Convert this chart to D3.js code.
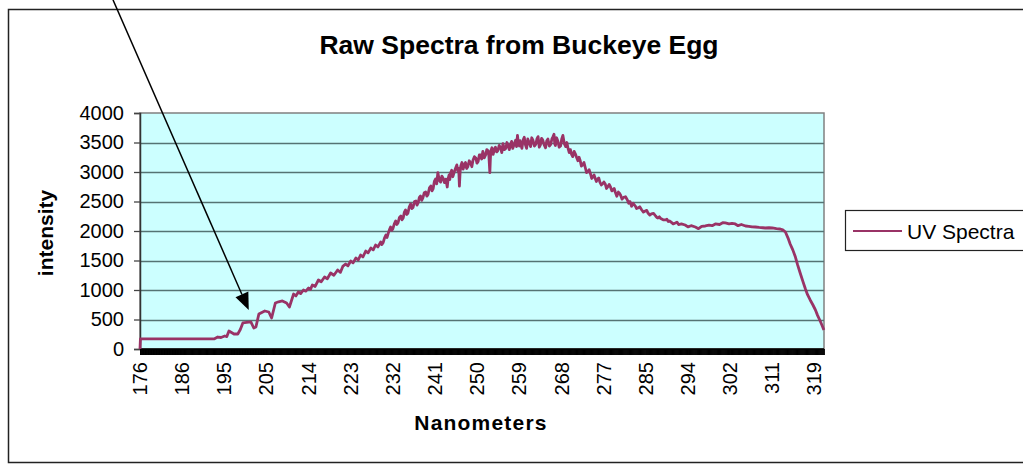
<!DOCTYPE html>
<html>
<head>
<meta charset="utf-8">
<script src="https://cdn.jsdelivr.net/npm/d3@7"></script>
<style>
  body { margin: 0; background: #fff; }
  svg text { font-family: Arial, "Liberation Sans", sans-serif; fill: #000; }
</style>
</head>
<body>
<svg id="chart" width="1023" height="464"></svg>
<script>
// category labels shown on the x axis (every n-th wavelength)
var tickLabels = [176, 186, 195, 205, 214, 223, 232, 241, 250, 259, 268, 277, 285, 294, 302, 311, 319];
var yTicks = [0, 500, 1000, 1500, 2000, 2500, 3000, 3500, 4000];

// UV spectra: [nm, counts]
var spectrum = [
  [176, 0], [176.1, 170], [192.8, 170], [193.6, 203], [194.3, 195], [195.1, 220], [195.6, 210], [196.1, 305],
  [196.7, 280], [197.3, 254], [198.2, 254], [198.8, 330], [199.4, 441], [200.3, 450], [201.3, 458], [202.0, 356],
  [202.5, 372], [203.2, 593], [203.9, 620], [204.6, 644], [205.5, 627], [206.1, 525], [206.9, 780], [207.6, 800],
  [208.4, 814], [209.3, 780], [209.9, 712], [210.8, 932], [211.3, 900], [211.8, 966], [212.3, 940], [212.9, 1000],
  [213.4, 980], [214.0, 1034], [214.4, 1010], [214.8, 1085], [215.4, 1060], [216.1, 1170], [216.7, 1140], [217.4, 1220],
  [218.0, 1190], [218.7, 1288], [219.4, 1250], [220.2, 1339], [220.8, 1300], [221.3, 1400], [221.9, 1441], [222.4, 1410],
  [223.0, 1492], [223.5, 1460], [224.1, 1542], [224.6, 1510], [225.1, 1593], [225.6, 1560], [226.2, 1661], [226.7, 1630],
  [227.3, 1712], [227.8, 1680], [228.3, 1763], [228.8, 1730],
  [229.4, 1814], [229.65, 1770], [229.9, 1800], [230.2, 1880], [230.5, 1932], [230.75, 1890], [231.0, 1960], [231.25, 2020],
  [231.5, 2068], [231.75, 2010], [232.0, 2040], [232.3, 2120], [232.6, 2170], [232.85, 2110], [233.1, 2140], [233.4, 2230],
  [233.7, 2254], [233.95, 2190], [234.2, 2220], [234.45, 2320], [234.7, 2356], [234.95, 2280], [235.2, 2300], [235.5, 2410],
  [235.8, 2458], [236.05, 2380], [236.3, 2400], [236.6, 2500], [236.9, 2509], [237.15, 2440], [237.4, 2480], [237.65, 2570],
  [237.9, 2593], [238.15, 2520], [238.4, 2560], [238.7, 2650], [239.0, 2661], [239.25, 2590], [239.5, 2620], [239.8, 2730],
  [240.1, 2763], [240.35, 2680], [240.6, 2720], [240.85, 2840], [241.1, 2881], [241.35, 2800], [241.6, 2990], [241.9, 2860],
  [242.2, 2830], [242.45, 2930], [242.7, 2900], [243.0, 2820], [243.3, 2880], [243.6, 2746], [243.8, 2890], [244.0, 2950],
  [244.15, 2870], [244.3, 2983], [244.55, 3030], [244.8, 2920], [245.1, 3000], [245.4, 3068], [245.65, 3120], [245.9, 3010],
  [246.05, 3060], [246.2, 2760], [246.35, 3000], [246.5, 3102], [246.75, 3160], [247.0, 3050], [247.25, 3120], [247.5, 3160],
  [247.75, 3060], [248.0, 3090], [248.3, 3190], [248.6, 3153], [248.85, 3090], [249.1, 3200], [249.4, 3260], [249.7, 3237],
  [249.95, 3150], [250.2, 3180], [250.45, 3290], [250.7, 3288], [250.95, 3220], [251.2, 3350], [251.5, 3240], [251.8, 3290],
  [252.05, 3380], [252.3, 3360], [252.5, 3270], [252.7, 2990], [252.8, 3200], [252.9, 3356], [253.15, 3410], [253.4, 3300],
  [253.65, 3380], [253.9, 3420], [254.15, 3340], [254.4, 3360], [254.7, 3450], [255.0, 3407], [255.25, 3330], [255.5, 3480],
  [255.8, 3380], [256.1, 3400], [256.35, 3500], [256.6, 3460], [256.85, 3380], [257.1, 3458], [257.35, 3520], [257.6, 3400],
  [257.9, 3470], [258.2, 3540], [258.4, 3430], [258.6, 3620], [258.8, 3480], [259.0, 3440], [259.15, 3530], [259.3, 3475],
  [259.55, 3400], [259.8, 3540], [260.05, 3590], [260.3, 3460], [260.55, 3400], [260.8, 3560], [261.1, 3500], [261.4, 3430],
  [261.65, 3580], [261.9, 3540], [262.2, 3440], [262.5, 3470], [262.75, 3560], [263.0, 3600], [263.25, 3420], [263.5, 3460],
  [263.75, 3570], [264.0, 3540], [264.3, 3460], [264.6, 3410], [264.85, 3530], [265.1, 3560], [265.4, 3440], [265.7, 3470],
  [265.95, 3560], [266.2, 3600], [266.4, 3640], [266.55, 3480], [266.7, 3450], [266.95, 3580], [267.2, 3530], [267.5, 3420],
  [267.8, 3440], [268.05, 3560], [268.3, 3620], [268.6, 3480], [268.9, 3430], [269.15, 3500], [269.4, 3400], [269.65, 3330],
  [269.9, 3380], [270.15, 3300], [270.4, 3260], [270.7, 3350], [271.0, 3300], [271.25, 3240], [271.5, 3190], [271.75, 3250],
  [272.0, 3190], [272.25, 3100], [272.5, 3120], [272.8, 3160], [273.1, 3068], [273.35, 2990], [273.6, 3000], [273.9, 3040],
  [274.2, 2966], [274.45, 2890], [274.7, 2920], [274.95, 2950], [275.2, 2890], [275.45, 2840], [275.7, 2881], [275.95, 2900],
  [276.2, 2830], [276.5, 2780], [276.8, 2800], [277.05, 2830], [277.3, 2797], [277.55, 2720], [277.8, 2750], [278.05, 2790],
  [278.3, 2746], [278.55, 2680], [278.8, 2700], [279.0, 2720], [279.2, 2661], [279.5, 2590], [279.8, 2660], [280.0, 2640],
  [280.2, 2610], [280.5, 2540], [280.8, 2570], [281.15, 2580], [281.5, 2526], [281.75, 2470], [282.0, 2500], [282.3, 2420],
  [282.6, 2470], [283.0, 2424], [283.25, 2380], [283.5, 2390], [283.85, 2410], [284.2, 2360], [284.55, 2320], [284.9, 2339],
  [285.2, 2350], [285.5, 2300], [285.85, 2270], [286.2, 2290], [286.65, 2300], [287.1, 2254], [287.35, 2230], [287.6, 2220],
  [287.9, 2240], [288.2, 2210], [288.7, 2190], [289.2, 2187], [289.5, 2200], [289.8, 2160], [290.1, 2170], [290.4, 2150],
  [290.85, 2120], [291.3, 2136], [291.65, 2150], [292.0, 2110],
  [292.6, 2120], [293.4, 2102], [294.0, 2070], [294.6, 2090], [295.4, 2068], [296.0, 2040], [296.6, 2080], [297.3, 2085],
  [298.0, 2100], [298.6, 2090], [299.2, 2119], [300.0, 2110], [300.6, 2140], [301.1, 2136], [301.8, 2120], [302.4, 2130],
  [303.1, 2119], [303.7, 2090], [304.4, 2110], [305.3, 2085], [306.0, 2080], [306.7, 2070], [307.4, 2068], [308.2, 2060],
  [309.0, 2055], [309.5, 2051], [310.3, 2055], [311.0, 2051], [311.8, 2040], [312.5, 2034], [313.0, 2020], [313.5, 1983],
  [314.0, 1880], [314.4, 1780], [314.9, 1680], [315.4, 1559], [315.8, 1430], [316.3, 1288], [316.8, 1150], [317.3, 1017],
  [317.7, 920], [318.2, 831], [318.7, 750], [319.2, 661], [319.6, 570], [320.1, 475], [320.5, 390], [320.8, 322]
];

// arrow annotation: from above the chart down to the shoulder near 201 nm
var arrowFrom = [169.6, 5916];
var arrowTo = [200.8, 661];

var svg = d3.select("#chart");

var plotLeft = 140, plotRight = 824, plotTop = 113, plotBottom = 349;
var step = 42.15;

// category-style axis: each label sits at an equal step
var x = d3.scaleLinear()
    .domain(tickLabels)
    .range(tickLabels.map(function(d, i) { return plotLeft + i * step; }));
var y = d3.scaleLinear().domain([0, 4000]).range([plotBottom, plotTop]);

// outer chart frame
svg.append("rect")
    .attr("x", 8.5).attr("y", 9.5)
    .attr("width", 1040).attr("height", 453)
    .attr("fill", "#fff")
    .attr("stroke", "#222")
    .attr("stroke-width", 1.5);

// plot area
svg.append("rect")
    .attr("x", plotLeft).attr("y", plotTop)
    .attr("width", plotRight - plotLeft).attr("height", plotBottom - plotTop)
    .attr("fill", "#ccffff")
    .attr("stroke", "#808080")
    .attr("stroke-width", 1.5);

// gridlines
svg.append("g")
    .selectAll("line")
    .data(yTicks.filter(function(d) { return d > 0 && d < 4000; }))
    .enter().append("line")
    .attr("x1", plotLeft).attr("x2", plotRight)
    .attr("y1", function(d) { return Math.round(y(d)) + 0.5; })
    .attr("y2", function(d) { return Math.round(y(d)) + 0.5; })
    .attr("stroke", "#557373")
    .attr("stroke-width", 1.6);

// y axis
var yAxis = svg.append("g")
    .attr("transform", "translate(" + plotLeft + ",0)")
    .call(d3.axisLeft(y).tickValues(yTicks).tickSize(6).tickPadding(10).tickFormat(d3.format("d")));
yAxis.select(".domain").attr("stroke", "#333").attr("stroke-width", 1.5);
yAxis.selectAll(".tick line").attr("stroke", "#444").attr("stroke-width", 1.3);
yAxis.selectAll("text").attr("font-size", 20).attr("fill", "#000")
    .attr("font-family", "Arial, 'Liberation Sans', sans-serif");

// dense category tick marks under the plot (the black band)
var denseTicks = d3.range(176, 320.9, 0.1);
var xTickAxis = svg.append("g")
    .attr("transform", "translate(0," + plotBottom + ")")
    .call(d3.axisBottom(x).tickValues(denseTicks).tickSize(6).tickFormat(""));
xTickAxis.select(".domain").remove();
xTickAxis.selectAll(".tick line").attr("stroke", "#000").attr("stroke-width", 1);
svg.append("line")
    .attr("x1", plotLeft).attr("x2", plotRight)
    .attr("y1", plotBottom).attr("y2", plotBottom)
    .attr("stroke", "#000").attr("stroke-width", 1.5);

// x labels, rotated
svg.append("g")
    .selectAll("text")
    .data(tickLabels)
    .enter().append("text")
    .attr("transform", function(d) { return "translate(" + x(d) + "," + (plotBottom + 13) + ") rotate(-90)"; })
    .attr("text-anchor", "end")
    .attr("dy", "0.35em")
    .attr("font-size", 20)
    .text(function(d) { return d; });

// the spectrum
var line = d3.line()
    .x(function(d) { return x(d[0]); })
    .y(function(d) { return y(d[1]); });

svg.append("path")
    .datum(spectrum)
    .attr("d", line)
    .attr("fill", "none")
    .attr("stroke", "#993366")
    .attr("stroke-width", 2.8)
    .attr("stroke-linejoin", "round");

// arrow annotation
var ax1 = x(arrowFrom[0]), ay1 = y(arrowFrom[1]);
var ax2 = x(arrowTo[0]), ay2 = y(arrowTo[1]);
var ang = Math.atan2(ay2 - ay1, ax2 - ax1);
var headLen = 17, headHalf = 7;
var bx = ax2 - headLen * Math.cos(ang), by = ay2 - headLen * Math.sin(ang);
svg.append("line")
    .attr("x1", ax1).attr("y1", ay1)
    .attr("x2", bx).attr("y2", by)
    .attr("stroke", "#000").attr("stroke-width", 1.5);
svg.append("path")
    .attr("d", "M" + ax2 + "," + ay2 +
        "L" + (bx + headHalf * Math.sin(ang)) + "," + (by - headHalf * Math.cos(ang)) +
        "L" + (bx - headHalf * Math.sin(ang)) + "," + (by + headHalf * Math.cos(ang)) + "Z")
    .attr("fill", "#000");

// titles
svg.append("text")
    .attr("x", 519).attr("y", 54)
    .attr("text-anchor", "middle")
    .attr("font-size", 26.5)
    .attr("font-weight", "bold")
    .text("Raw Spectra from Buckeye Egg");

svg.append("text")
    .attr("transform", "translate(53,233) rotate(-90)")
    .attr("text-anchor", "middle")
    .attr("font-size", 21)
    .attr("font-weight", "bold")
    .text("intensity");

svg.append("text")
    .attr("x", 481).attr("y", 430)
    .attr("text-anchor", "middle")
    .attr("font-size", 21)
    .attr("font-weight", "bold")
    .attr("letter-spacing", "1.2px")
    .text("Nanometers");

// legend
var legend = svg.append("g");
legend.append("rect")
    .attr("x", 845.5).attr("y", 210.5)
    .attr("width", 200).attr("height", 40)
    .attr("fill", "#fff")
    .attr("stroke", "#222")
    .attr("stroke-width", 1.2);
legend.append("line")
    .attr("x1", 853).attr("x2", 902)
    .attr("y1", 231).attr("y2", 231)
    .attr("stroke", "#993366").attr("stroke-width", 2.2);
legend.append("text")
    .attr("x", 907).attr("y", 239)
    .attr("font-size", 21)
    .text("UV Spectra");
</script>
</body>
</html>
